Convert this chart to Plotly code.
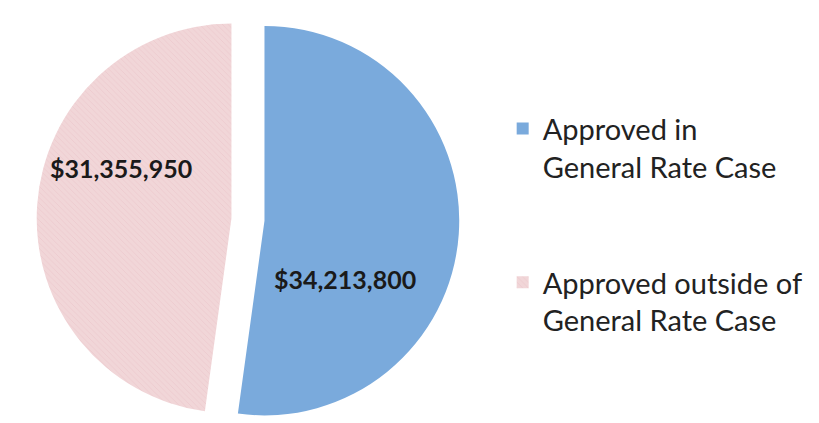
import plotly.graph_objects as go

# Data
labels = ["Approved in<br>General Rate Case", "Approved outside of<br>General Rate Case"]
values = [34213800, 31355950]
colors = ["#7aaadc", "#f1d6d8"]

# extra blank lines to open up the gap between legend entries
legend_labels = [lab + "<br> <br> " for lab in labels]

fig = go.Figure()

fig.add_trace(go.Pie(
    labels=legend_labels,
    values=values,
    sort=False,
    direction="clockwise",
    rotation=0,
    pull=[0.085, 0.085],
    marker=dict(
        colors=colors,
        line=dict(width=0),
        pattern=dict(shape=["", "\\"], fgcolor="#e6bcc0", size=4,
                     solidity=0.2, fillmode="overlay"),
    ),
    textinfo="none",
    hoverinfo="label+value",
    domain=dict(x=[0.035, 0.551], y=[0, 1]),
))

# value labels sitting inside each slice
label_pos = [(0.411, 0.36), (0.138, 0.622)]
for v, (px, py) in zip(values, label_pos):
    fig.add_annotation(
        x=px, y=py, xref="paper", yref="paper",
        xanchor="center", yanchor="middle",
        text="${:,}".format(v), showarrow=False,
        font=dict(family="Lato", size=25, color="#1a1a1a", weight="bold"),
    )

fig.update_layout(
    width=819,
    height=423,
    margin=dict(l=0, r=0, t=0, b=0),
    paper_bgcolor="white",
    plot_bgcolor="white",
    showlegend=True,
    legend=dict(
        x=0.604, y=0.775, xanchor="left", yanchor="top",
        valign="top",
        font=dict(family="Lato", size=29, color="#222222"),
        bgcolor="rgba(0,0,0,0)",
    ),
)

fig.write_html("out.html")
